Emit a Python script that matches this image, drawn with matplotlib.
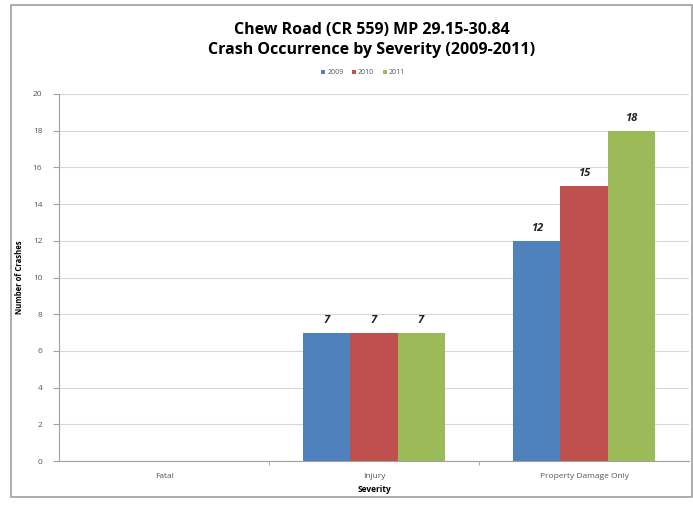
import matplotlib.pyplot as plt
import numpy as np
from matplotlib.patches import Rectangle

categories = ["Fatal", "Injury", "Property Damage Only"]
years = ["2009", "2010", "2011"]
crashes_2009 = [0, 7, 12]
crashes_2010 = [0, 7, 15]
crashes_2011 = [0, 7, 18]
colors = ["#4F81BD", "#C0504D", "#9BBB59"]

plt.rcParams['font.family'] = ['Open Sans', 'DejaVu Sans']

fig = plt.figure(figsize=(6.93, 5.08), dpi=100)
ax = fig.add_axes([59 / 693, 1 - 461 / 508, 630 / 693, 367 / 508])

# outer chart border
fig.patches.append(Rectangle((11 / 693, 1 - 497 / 508), 681 / 693, 492 / 508,
                             transform=fig.transFigure, fill=False,
                             edgecolor="#a0a0a0", linewidth=1.2))

x = np.arange(len(categories))
w = 0.224
series = [crashes_2009, crashes_2010, crashes_2011]
for i, (vals, yr) in enumerate(zip(series, years)):
    pos = x + (i - 1) * w
    bars = ax.bar(pos, vals, w, color=colors[i], label=yr, zorder=3)
    for b, v in zip(bars, vals):
        if v > 0:
            ax.text(b.get_x() + b.get_width() / 2, v + 0.35, str(v),
                    ha="center", va="bottom", fontsize=8,
                    fontweight="bold", fontstyle="italic", color="#222222")

ax.set_xlim(-0.5, 2.5)
ax.set_ylim(0, 20)
ax.set_yticks(range(0, 21, 2))
ax.set_xticks(x)
ax.set_xticklabels(categories)
ax.set_xticks([0.5, 1.5], minor=True)
ax.tick_params(axis="x", which="major", length=0, labelsize=6,
               labelcolor="#555555", pad=9)
ax.tick_params(axis="x", which="minor", length=3, color="#a0a0a0",
               direction="out")
ax.tick_params(axis="y", length=4, color="#a0a0a0", labelsize=6,
               labelcolor="#555555", pad=8)
ax.grid(axis="y", color="#d8d8d8", linewidth=0.8, zorder=0)
for s in ["top", "right"]:
    ax.spines[s].set_visible(False)
for s in ["left", "bottom"]:
    ax.spines[s].set_color("#a0a0a0")

ax.set_xlabel("Severity", fontsize=6, fontweight="bold", labelpad=3)
ax.set_ylabel("Number of Crashes", fontsize=5.5, fontweight="bold", labelpad=6)

fig.text(372 / 693, 1 - 30 / 508, "Chew Road (CR 559) MP 29.15-30.84",
         ha="center", va="center", fontsize=11.5, fontweight="bold")
fig.text(372 / 693, 1 - 50 / 508, "Crash Occurrence by Severity (2009-2011)",
         ha="center", va="center", fontsize=11.5, fontweight="bold")

fig.legend(loc="center", bbox_to_anchor=(363 / 693, 1 - 73 / 508), ncol=3,
           frameon=False, fontsize=5, handlelength=0.6, handleheight=0.6,
           handletextpad=0.3, columnspacing=1.2, labelcolor="#555555")

fig.savefig("out.png", dpi=100)
